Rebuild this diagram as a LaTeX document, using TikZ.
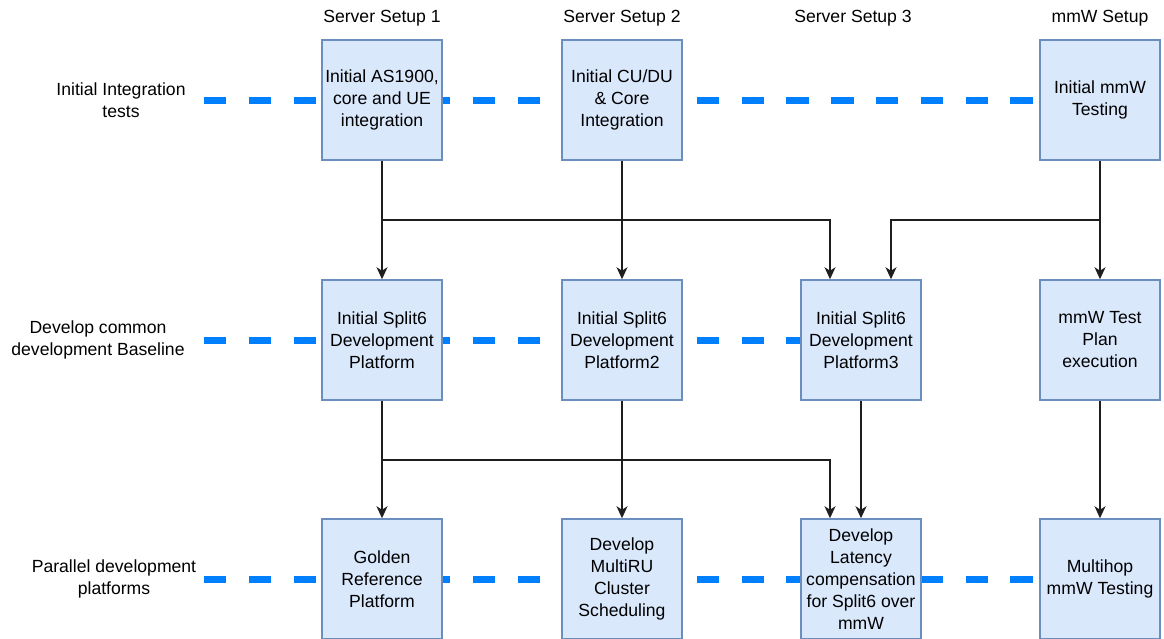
\documentclass[tikz,border=0pt]{standalone}
\usepackage{fontspec}
\setmainfont{Liberation Sans}
\usetikzlibrary{arrows.meta, backgrounds}
\definecolor{stagefill}{RGB}{218,232,252}
\definecolor{stageline}{RGB}{108,142,191}
\definecolor{lanecolor}{RGB}{0,127,255}
\definecolor{linkcolor}{RGB}{30,30,30}

\tikzset{
  stage/.style={rectangle, draw=stageline, fill=stagefill, line width=1.5pt,
    minimum width=120pt, minimum height=120pt, inner sep=0pt, align=center},
  caption/.style={align=center},
  lane/.style={draw=lanecolor, line width=7pt, dash pattern=on 22.4pt off 22.4pt},
  flow/.style={draw=linkcolor, line width=1.5pt, -{Stealth[length=12pt, width=11pt, inset=3.5pt]}}
}

\begin{document}
\begin{tikzpicture}[x=1pt, y=-1pt, font=\fontsize{17.6}{22}\selectfont]
\useasboundingbox (0,0) rectangle (1164,638);

% Column headers
\node (head1) at (382,18) {Server Setup 1};
\node (head2) at (622,18) {Server Setup 2};
\node (head3) at (853,18) {Server Setup 3};
\node (head4) at (1100,18) {mmW Setup};

% Row captions
\node[caption] (cap1) at (121,100) {Initial Integration\\tests};
\node[caption] (cap2) at (98,340) {Develop common\\development Baseline};
\node[caption] (cap3) at (114,579) {Parallel development\\platforms};

% First row: integration tests
\node[stage] (init1) at (382,100) {Initial AS1900,\\core and UE\\integration};
\node[stage] (init2) at (622,100) {Initial CU/DU\\\& Core\\Integration};
\node[stage] (mmw1) at (1100,100) {Initial mmW\\Testing};

% Second row: common baseline
\node[stage] (base1) at (382,340) {Initial Split6\\Development\\Platform};
\node[stage] (base2) at (622,340) {Initial Split6\\Development\\Platform2};
\node[stage] (base3) at (861,340) {Initial Split6\\Development\\Platform3};
\node[stage] (mmw2) at (1100,340) {mmW Test\\Plan\\execution};

% Third row: parallel platforms
\node[stage] (par1) at (382,579) {Golden\\Reference\\Platform};
\node[stage] (par2) at (622,579) {Develop\\MultiRU\\Cluster\\Scheduling};
\node[stage] (par3) at (861,579) {Develop\\Latency\\compensation\\for Split6 over\\mmW};
\node[stage] (mmw3) at (1100,579) {Multihop\\mmW Testing};

% Dashed lanes behind the boxes
\coordinate (lane1) at (204,100);
\coordinate (lane2) at (204,340);
\coordinate (lane3) at (204,579);
\begin{scope}[on background layer]
\draw[lane] (lane1) -- (mmw1.west);
\draw[lane] (lane2) -- (base3.west);
\draw[lane] (lane3) -- (mmw3.west);
\end{scope}

% Links between rows
\coordinate (bus12) at (0,220);
\coordinate (bus23) at (0,460);
\draw[flow] (init1) -- (base1);
\draw[flow] (init1 |- bus12) -| ([xshift=-31pt]base3.north);
\draw[flow] (init2) -- (base2);
\draw[flow] (mmw1) -- (mmw2);
\draw[flow] (mmw1 |- bus12) -| ([xshift=30pt]base3.north);

\draw[flow] (base1) -- (par1);
\draw[flow] (base1 |- bus23) -| ([xshift=-31pt]par3.north);
\draw[flow] (base2) -- (par2);
\draw[flow] (base3) -- (par3);
\draw[flow] (mmw2) -- (mmw3);
\end{tikzpicture}
\end{document}
